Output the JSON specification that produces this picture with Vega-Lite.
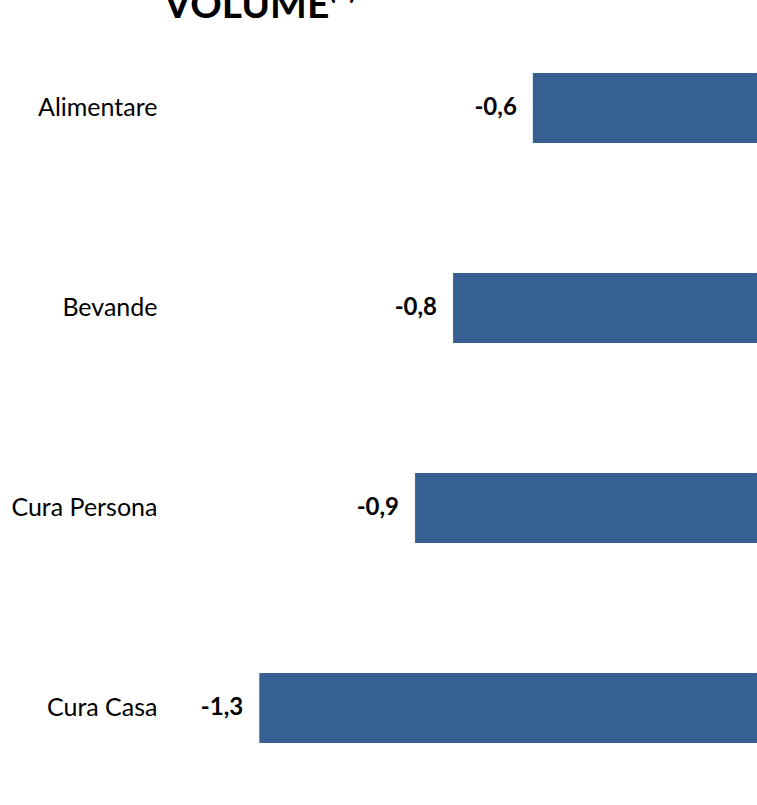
{
  "$schema": "https://vega.github.io/schema/vega-lite/v6.json",
  "width": 587,
  "height": 800,
  "autosize": {"type": "none"},
  "padding": {"left": 170, "top": 8, "right": 0, "bottom": 0},
  "background": "white",
  "config": {
    "view": {"stroke": null},
    "locale": {"number": {"decimal": ",", "thousands": ".", "grouping": [3], "currency": ["€", ""], "minus": "-"}}
  },
  "title": {
    "text": "VOLUME⁽²⁾",
    "anchor": "start",
    "frame": "group",
    "font": "Lato",
    "fontSize": 39,
    "fontWeight": "bold",
    "color": "black",
    "offset": 0,
    "dx": -6,
    "dy": 18
  },
  "data": {
    "values": [
      {"categoria": "Alimentare", "valore": -0.59},
      {"categoria": "Bevande", "valore": -0.8},
      {"categoria": "Cura Persona", "valore": -0.9},
      {"categoria": "Cura Casa", "valore": -1.31}
    ]
  },
  "encoding": {
    "y": {
      "field": "categoria",
      "type": "nominal",
      "sort": null,
      "scale": {"paddingInner": 0.65, "paddingOuter": 0.325}
    },
    "x": {
      "field": "valore",
      "type": "quantitative",
      "scale": {"domain": [-1.545, 0], "nice": false, "zero": false},
      "axis": null
    }
  },
  "layer": [
    {
      "mark": {"type": "bar", "color": "#376092"},
      "encoding": {
        "y": {
          "field": "categoria",
          "type": "nominal",
          "sort": null,
          "axis": {
            "title": null,
            "domain": false,
            "ticks": false,
            "labelPadding": 13,
            "labelFont": "Lato",
            "labelFontSize": 25,
            "labelColor": "black"
          }
        }
      }
    },
    {
      "mark": {"type": "text", "align": "right", "baseline": "middle", "dx": -16, "font": "Lato", "fontSize": 24, "fontWeight": "bold", "color": "black"},
      "encoding": {
        "y": {
          "field": "categoria",
          "type": "nominal",
          "sort": null,
          "axis": {
            "orient": "right",
            "title": null,
            "domain": false,
            "labels": false,
            "ticks": true,
            "bandPosition": 0,
            "tickSize": -2,
            "tickWidth": 1.5,
            "tickColor": "#888888"
          }
        },
        "text": {"field": "valore", "type": "quantitative", "format": ".1f"}
      }
    }
  ],
  "resolve": {"axis": {"y": "independent"}}
}
